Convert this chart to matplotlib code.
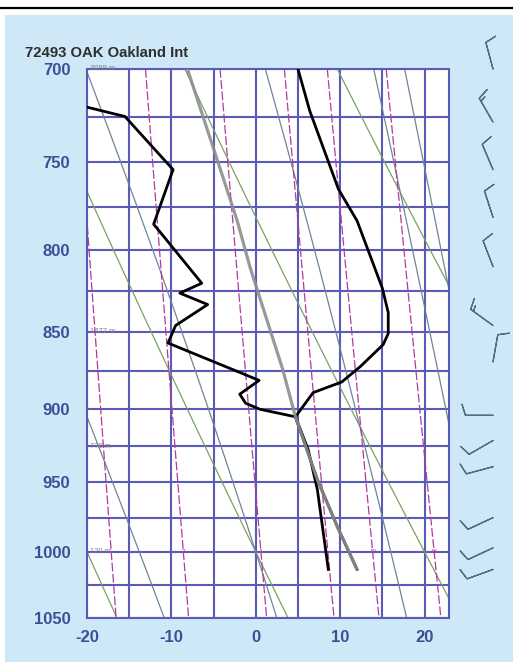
import numpy as np
import matplotlib
matplotlib.use('Agg')
import matplotlib.pyplot as plt
from matplotlib.patches import Rectangle
from matplotlib.lines import Line2D
from matplotlib.ticker import FixedLocator, NullLocator, FixedFormatter

# ---------------- data ----------------
title = "72493 OAK Oakland Int"
p_ticks = [700, 750, 800, 850, 900, 950, 1000, 1050]
t_ticks = [-20, -10, 0, 10, 20]

temp_p = [700, 722, 765, 783, 823, 838, 851, 858, 872, 882, 889, 905, 948, 982, 1013]
temp_t = [5.0, 6.4, 9.8, 12.0, 15.0, 15.7, 15.7, 15.1, 12.4, 10.2, 6.8, 4.7, 7.3, 9.7, 12.0]

dewp_p = [700, 720, 725, 754, 785, 820, 826, 833, 846, 857, 881, 890, 896, 900, 905, 927, 955, 1013]
dewp_t = [-38, -20, -15.5, -9.8, -12.1, -6.4, -9.0, -5.7, -9.5, -10.4, 0.4, -1.9, -1.2, 0.5, 4.7, 6.2, 7.3, 8.6]

parcel_p = [1013, 982, 948, 905, 874, 810, 783, 700]
parcel_t = [12.0, 9.7, 7.3, 4.7, 3.2, -0.7, -2.2, -8.1]

height_p = [700, 850, 925, 1000]
height_lbl = ["3089 m", "1477 m", "770 m", "120 m"]

barb_p = [700, 728, 754, 781, 810, 846, 869, 904, 921, 939, 975, 997, 1013]
barb_dir = [345, 330, 337, 342, 339, 306, 10, 270, 240, 255, 245, 245, 250]
barb_spd = [10, 15, 10, 10, 10, 15, 10, 10, 10, 10, 10, 10, 10]

# chart furniture (reference line families)
isotherms = [-20, -15, -10, -5, 0, 5, 10, 15, 20]
isobars = [700, 725, 750, 775, 800, 825, 850, 875, 900, 925, 950, 975, 1000, 1025, 1050]
dry_theta = [-20, 0, 20, 40]
moist_thw = [-13.8, 0, 16, 26, 29]
mix_ratios = [1, 2, 4, 7, 10, 16]
mix_labels = ["2", "4", "10", "16"]
mix_label_w = [2, 4, 10, 16]

# ---------------- helpers ----------------
def es(tc):
    return 6.112 * np.exp(17.67 * tc / (tc + 243.5))

def mix_td(w, p):
    e = w * p / (622.0 + w)
    lg = np.log(e / 6.112)
    return 243.5 * lg / (17.67 - lg)

def moist_curve(t0, pp):
    Rd, cp, Lv, eps = 287.04, 1005.7, 2.501e6, 0.622
    def dtdp(p, T):
        e = es(T - 273.15)
        rs = eps * e / (p - e)
        return (Rd * T + Lv * rs) / (p * (cp + Lv * Lv * rs * eps / (Rd * T * T)))
    out = []
    for ptarget in pp:
        T = t0 + 273.15
        p = 1000.0
        n = 200
        dp = (ptarget - p) / n
        for _ in range(n):
            k1 = dtdp(p, T)
            k2 = dtdp(p + dp / 2, T + k1 * dp / 2)
            T += k2 * dp
            p += dp
        out.append(T - 273.15)
    return np.array(out)

# ---------------- figure ----------------
W, H = 513, 664
fig = plt.figure(figsize=(W / 100, H / 100), dpi=100)
fig.patch.set_facecolor('white')
bg = Rectangle((5 / W, 2 / H), 1 - 5 / W, (H - 17) / H,
               transform=fig.transFigure, facecolor='#cfe8f8',
               edgecolor='none', zorder=-10)
fig.add_artist(bg)
fig.add_artist(Line2D([0, 1], [1 - 8 / H, 1 - 8 / H], transform=fig.transFigure,
                      color='black', lw=1.6, zorder=-5))

x0, x1, ytop, ybot = 87, 449, 69, 618
ax = fig.add_axes([x0 / W, 1 - ybot / H, (x1 - x0) / W, (ybot - ytop) / H])
ax.set_facecolor('white')
ax.set_yscale('log')
ax.set_ylim(1050, 700)
ax.set_xlim(-20, 22.9)

gridc = '#5a5ab8'
for t in isotherms:
    ax.axvline(t, color=gridc, lw=1.5, zorder=1)
for p in isobars:
    ax.axhline(p, color=gridc, lw=1.5, zorder=1)

pp = np.linspace(700, 1050, 80)
for th in dry_theta:
    T = (th + 273.15) * (pp / 1000.0) ** 0.2857 - 273.15
    ax.plot(T, pp, color='#79a35f', lw=0.9, zorder=2)
for tw in moist_thw:
    T = moist_curve(tw, pp)
    ax.plot(T, pp, color='#6f8598', lw=0.9, zorder=2)
for w in mix_ratios:
    ax.plot(mix_td(w, pp), pp, color='#b23a9e', lw=0.9, dashes=(7, 2), zorder=2)
for w, s in zip(mix_label_w, mix_labels):
    ax.text(mix_td(w, 1000.0), 1000, s, fontsize=4.5, color='#b23a9e',
            ha='center', va='center', zorder=3, family='Liberation Sans')

ax.plot(temp_t, temp_p, color='black', lw=2.0, zorder=5)
ax.plot(dewp_t, dewp_p, color='black', lw=2.0, zorder=5)
ax.plot(parcel_t, parcel_p, color='#8e8e8e', lw=2.3, alpha=0.9, zorder=6,
        solid_capstyle='round')

for p, s in zip(height_p, height_lbl):
    ax.text(-19.6, p, s, fontsize=5.5, color='#808080', va='center', ha='left',
            zorder=7, family='Liberation Sans')

ax.yaxis.set_major_locator(FixedLocator(p_ticks))
ax.yaxis.set_major_formatter(FixedFormatter([str(p) for p in p_ticks]))
ax.yaxis.set_minor_locator(NullLocator())
ax.xaxis.set_major_locator(FixedLocator(t_ticks))
ax.set_xticklabels([str(t) for t in t_ticks])
ax.tick_params(axis='both', length=0, labelsize=12, labelcolor='#3a4f94')
ax.tick_params(axis='y', pad=12)
ax.tick_params(axis='x', pad=9)
for lab in ax.get_xticklabels() + ax.get_yticklabels():
    lab.set_fontweight('bold')
    lab.set_family('Liberation Sans')
for sp in ax.spines.values():
    sp.set_color(gridc)
    sp.set_linewidth(1.5)

fig.text(25 / W, 1 - 57 / H, title, fontsize=10.7, fontweight='bold', color='#2e2e2e',
         family='Liberation Sans', ha='left', va='baseline')

# wind barbs
bx0, bx1 = 455, 511
bax = fig.add_axes([bx0 / W, 1 - ybot / H, (bx1 - bx0) / W, (ybot - ytop) / H])
bax.set_yscale('log')
bax.set_ylim(1050, 700)
bax.set_xlim(0, 1)
bax.axis('off')
d = np.deg2rad(np.array(barb_dir, dtype=float))
s = np.array(barb_spd, dtype=float)
u = -s * np.sin(d)
v = -s * np.cos(d)
bax.barbs(np.full(len(barb_p), (493 - bx0) / (bx1 - bx0)), barb_p, u, v,
          length=6.3, color='#50707e', linewidth=0.9, clip_on=False)

fig.savefig('out.png', dpi=100)
